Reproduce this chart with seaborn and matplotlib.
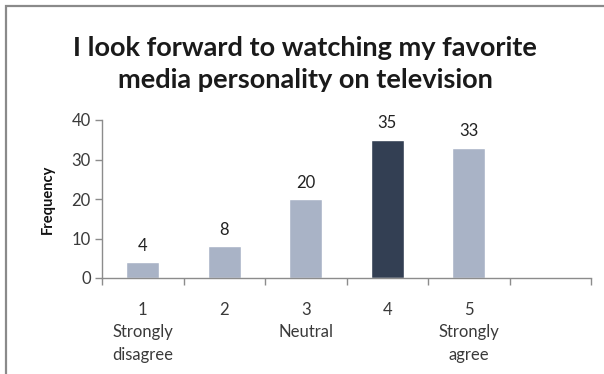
import matplotlib
matplotlib.use("Agg")
import matplotlib.pyplot as plt
import seaborn as sns
import pandas as pd
from matplotlib.patches import Rectangle

# Survey responses for the statement in the title
categories = ["1", "2", "3", "4", "5"]
tick_labels = ["1\nStrongly\ndisagree", "2", "3\nNeutral", "4", "5\nStrongly\nagree", ""]
frequencies = [4, 8, 20, 35, 33]
highlight = "4"

light = "#a9b3c6"
dark = "#333f53"
axis_grey = "#8c8c8c"

sns.set_theme(style="white")
plt.rcParams["font.family"] = ["Lato", "DejaVu Sans"]

df = pd.DataFrame({"response": categories, "freq": frequencies})
palette = {c: (dark if c == highlight else light) for c in categories}

fig = plt.figure(figsize=(6.04, 3.74), dpi=100)
ax = fig.add_axes([102 / 604, 1 - 278 / 374, (591 - 102) / 604, (278 - 120) / 374])

sns.barplot(data=df, x="response", y="freq", hue="response", palette=palette,
            order=categories, width=0.4, legend=False, saturation=1, ax=ax)

ax.set_xlim(-0.5, 5.5)
ax.set_ylim(0, 40)
ax.set_yticks([0, 10, 20, 30, 40])

# category labels centred in slots, tick marks on slot boundaries
ax.set_xticks(range(6))
ax.set_xticklabels(tick_labels, fontsize=12, color="#3a3a3a", linespacing=1.5, va="top")
ax.set_xticks([i - 0.5 for i in range(7)], minor=True)
ax.tick_params(axis="x", which="major", length=0, pad=17)
ax.tick_params(axis="x", which="minor", length=5, color=axis_grey, width=1, direction="out")
ax.tick_params(axis="y", length=5, color=axis_grey, width=1, direction="out",
               labelsize=12, labelcolor="#3a3a3a", pad=3)
ax.xaxis.set_ticks_position("bottom")
ax.yaxis.set_ticks_position("left")

for side in ("top", "right"):
    ax.spines[side].set_visible(False)
for side in ("left", "bottom"):
    ax.spines[side].set_color(axis_grey)
    ax.spines[side].set_linewidth(1)

ax.set_xlabel("")
ax.set_ylabel("Frequency", fontsize=10.5, fontweight="bold", color="#111111", labelpad=12)

for container in ax.containers:
    ax.bar_label(container, fontsize=12, color="#222222", padding=6)

fig.text(0.505, 1 - 48 / 374, "I look forward to watching my favorite",
         ha="center", va="center", fontsize=19.5, fontweight="bold", color="#1a1a1a")
fig.text(0.505, 1 - 80 / 374, "media personality on television",
         ha="center", va="center", fontsize=19.5, fontweight="bold", color="#1a1a1a")

# outer frame
fig.patches.append(Rectangle((6 / 604, -0.05), 1.2, 1 - 6 / 374 + 0.05,
                             transform=fig.transFigure, fill=False,
                             edgecolor="#8a8a8a", linewidth=1.6))

fig.savefig("out.png", dpi=100, facecolor="white")
